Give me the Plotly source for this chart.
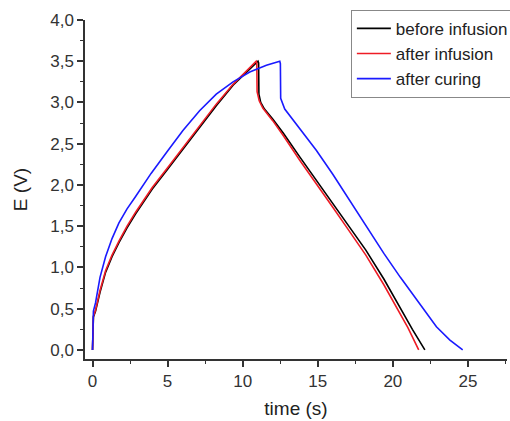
import plotly.graph_objects as go

# before infusion (black)
t_before = [0, 0.02, 0.06, 0.2, 0.5, 0.87, 1.3, 1.76, 2.3, 2.87, 3.4, 3.98, 5.0, 6.0, 7.13, 8.24, 9.36, 10.47, 11.02,
            11.06, 11.08, 11.2, 11.45, 12.0, 12.7, 13.8, 14.9, 16.0, 17.1, 18.2, 19.4, 20.5, 21.3, 22.13]
e_before = [0, 0.3, 0.4, 0.47, 0.7, 0.94, 1.13, 1.3, 1.48, 1.65, 1.8, 1.95, 2.19, 2.43, 2.7, 2.96, 3.21, 3.41, 3.5,
            3.48, 3.1, 3.0, 2.92, 2.8, 2.63, 2.34, 2.06, 1.77, 1.49, 1.21, 0.86, 0.5, 0.25, 0.0]

# after infusion (red)
t_infusion = [0, 0.02, 0.06, 0.2, 0.5, 0.87, 1.3, 1.76, 2.3, 2.87, 3.4, 3.98, 5.0, 6.0, 7.13, 8.24, 9.36, 10.47, 10.9,
              10.94, 10.96, 11.1, 11.35, 12.0, 12.7, 13.8, 14.9, 16.0, 17.1, 18.2, 19.4, 20.5, 21.0, 21.72]
e_infusion = [0, 0.3, 0.41, 0.48, 0.72, 0.96, 1.15, 1.32, 1.5, 1.67, 1.82, 1.97, 2.21, 2.45, 2.72, 2.98, 3.22, 3.42, 3.5,
              3.48, 3.13, 3.02, 2.93, 2.78, 2.6, 2.3, 2.02, 1.73, 1.44, 1.15, 0.79, 0.43, 0.27, 0.0]

# after curing (blue)
t_curing = [0, 0.02, 0.06, 0.2, 0.5, 0.87, 1.3, 1.76, 2.3, 2.87, 3.9, 4.95, 6.02, 7.13, 8.24, 9.36, 10.47, 11.58, 12.47,
            12.51, 12.53, 12.8, 13.36, 14.1, 14.9, 16.0, 17.1, 18.2, 19.4, 20.5, 21.6, 22.3, 22.9, 23.8, 24.65]
e_curing = [0, 0.35, 0.47, 0.57, 0.88, 1.13, 1.35, 1.54, 1.71, 1.86, 2.14, 2.4, 2.66, 2.9, 3.1, 3.25, 3.37, 3.45, 3.5,
            3.47, 3.05, 2.92, 2.79, 2.61, 2.42, 2.13, 1.82, 1.5, 1.17, 0.88, 0.61, 0.43, 0.28, 0.12, 0.0]

series = [
    ("before infusion", t_before, e_before, "#000000"),
    ("after infusion", t_infusion, e_infusion, "#ee1c25"),
    ("after curing", t_curing, e_curing, "#1a1aff"),
]

x_ticks = [0, 5, 10, 15, 20, 25]
y_ticks = [0.0, 0.5, 1.0, 1.5, 2.0, 2.5, 3.0, 3.5, 4.0]

fig = go.Figure()
for name, t, e, c in series:
    fig.add_trace(go.Scatter(x=t, y=e, mode="lines", name=name,
                             line=dict(color=c, width=1.6)))

font = "Liberation Sans, Arial, sans-serif"
fig.update_layout(
    width=510, height=421,
    margin=dict(l=85, r=3, t=20, b=62, autoexpand=False),
    paper_bgcolor="white", plot_bgcolor="white",
    separators=", ",
    font=dict(family=font, size=16, color="#333333"),
    showlegend=True,
    legend=dict(x=0.63, y=1.03, xanchor="left", yanchor="top",
                bordercolor="#888888", borderwidth=1, bgcolor="white",
                font=dict(size=17, color="#222222"), tracegroupgap=0,
                itemwidth=34),
)
fig.update_xaxes(
    range=[-0.5, 27.6], tickvals=x_ticks, ticktext=[str(v) for v in x_ticks],
    showline=True, linecolor="#333333", linewidth=1.5, showgrid=False, zeroline=False,
    ticks="outside", ticklen=6, tickwidth=1.5, tickcolor="#333333",
    tickfont=dict(size=17),
    minor=dict(dtick=2.5, tick0=0, ticks="outside", ticklen=3, tickcolor="#333333", tickwidth=1.2),
    title=dict(text="time (s)", font=dict(size=19, color="#222222"), standoff=12),
)
fig.update_yaxes(
    range=[-0.11, 4.0], tickvals=y_ticks, tickformat=".1f",
    showline=True, linecolor="#333333", linewidth=1.5, showgrid=False, zeroline=False,
    ticks="outside", ticklen=6, tickwidth=1.5, tickcolor="#333333",
    tickfont=dict(size=17),
    minor=dict(dtick=0.25, tick0=0, ticks="outside", ticklen=3, tickcolor="#333333", tickwidth=1.2),
    title=dict(text="E (V)", font=dict(size=19, color="#222222"), standoff=18),
)

fig.write_html("out.html")
